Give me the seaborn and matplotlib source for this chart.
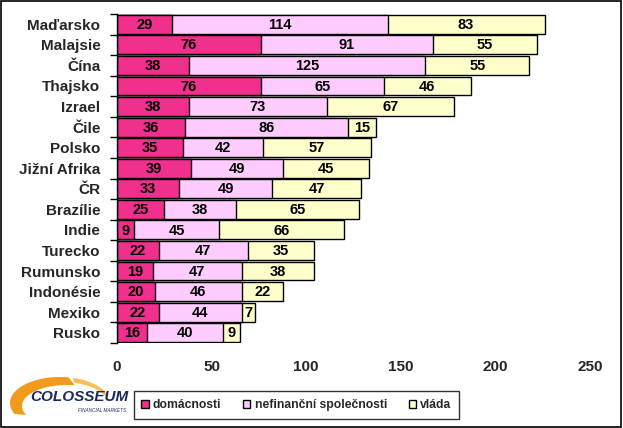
import matplotlib
matplotlib.use("Agg")
import matplotlib.pyplot as plt
import seaborn as sns
import pandas as pd
import numpy as np
from matplotlib.patches import Rectangle, Polygon, Patch

countries = ["Maďarsko", "Malajsie", "Čína", "Thajsko", "Izrael", "Čile", "Polsko",
             "Jižní Afrika", "ČR", "Brazílie", "Indie", "Turecko", "Rumunsko",
             "Indonésie", "Mexiko", "Rusko"]
domacnosti = [29, 76, 38, 76, 38, 36, 35, 39, 33, 25, 9, 22, 19, 20, 22, 16]
nefinancni = [114, 91, 125, 65, 73, 86, 42, 49, 49, 38, 45, 47, 47, 46, 44, 40]
vlada = [83, 55, 55, 46, 67, 15, 57, 45, 47, 65, 66, 35, 38, 22, 7, 9]
series_names = ["domácnosti", "nefinanční společnosti", "vláda"]
colors = ["#F0308C", "#FFCCFF", "#FFFFCC"]
x_ticks = [0, 50, 100, 150, 200, 250]

df = pd.DataFrame({"country": countries, "dom": domacnosti, "nef": nefinancni, "vla": vlada})
df["c1"] = df["dom"]
df["c2"] = df["dom"] + df["nef"]
df["c3"] = df["c2"] + df["vla"]

sns.set_theme(style="white")
plt.rcParams["font.family"] = ["Liberation Sans", "DejaVu Sans"]
plt.rcParams["font.weight"] = "bold"

fig = plt.figure(figsize=(6.23, 4.28), dpi=100)
ax = fig.add_axes([117/623, 1 - 343/428, 473/623, 329/428])

for col, color in zip(["c3", "c2", "c1"], colors[::-1]):
    sns.barplot(data=df, x=col, y="country", orient="h", color=color, width=0.92,
                edgecolor="black", linewidth=1.0, saturation=1, ax=ax)

# value labels
for i, row in df.iterrows():
    starts = [0, row["c1"], row["c2"]]
    vals = [row["dom"], row["nef"], row["vla"]]
    for s, v in zip(starts, vals):
        ax.text(s + v / 2, i + 0.03, str(v), ha="center", va="center", fontsize=10.5,
                fontweight="bold", color="black")

ax.set_xlim(0, 250)
ax.set_ylim(len(countries) - 0.5, -0.5)
ax.set_xticks(x_ticks)
ax.set_xticklabels([str(t) for t in x_ticks], fontsize=11, fontweight="bold")
ax.set_xlabel("")
ax.set_ylabel("")
ax.tick_params(axis="x", length=0, pad=12)
ax.tick_params(axis="y", which="major", length=0, pad=12, labelsize=11)
for lbl in ax.get_yticklabels():
    lbl.set_fontweight("bold")
ax.set_yticks(np.arange(-0.5, len(countries) + 0.5, 1), minor=True)
ax.tick_params(axis="y", which="minor", length=5, width=1, color="black", direction="out", left=True)
for side in ["top", "right", "bottom"]:
    ax.spines[side].set_visible(False)
ax.spines["left"].set_color("black")
ax.spines["left"].set_linewidth(1)

# legend
handles = [Patch(facecolor=c, edgecolor="black", linewidth=1) for c in colors]
leg = fig.legend(handles, series_names, loc="center", bbox_to_anchor=(296.5/623, 1 - 405/428),
                 ncol=3, frameon=True, fancybox=False, handlelength=0.6,
                 handleheight=0.6, handletextpad=0.35, columnspacing=1.8,
                 prop={"weight": "bold", "size": 8.7}, borderpad=0.65)
leg.get_frame().set_edgecolor("black")
leg.get_frame().set_linewidth(1)

# logo (pixel coordinates, y downwards)
lax = fig.add_axes([0, 0, 140/623, 68/428])
lax.set_xlim(0, 140)
lax.set_ylim(428, 360)
lax.axis("off")
t_out = np.radians(np.linspace(205, 80, 60))
t_in = np.radians(np.linspace(80, 205, 60))
outer = np.column_stack([60 + 50 * np.cos(t_out), 403 - 26 * np.sin(t_out)])
inner = np.column_stack([67 + 45 * np.cos(t_in), 406 - 21 * np.sin(t_in)])
lax.add_patch(Polygon(np.vstack([outer, inner]), closed=True, color="#F29A1C", lw=0))
t2 = np.radians(np.linspace(75, 20, 30))
t2b = np.radians(np.linspace(20, 75, 30))
o2 = np.column_stack([60 + 50 * np.cos(t2), 403 - 26 * np.sin(t2)])
i2 = np.column_stack([62 + 47 * np.cos(t2b), 405 - 23 * np.sin(t2b)])
lax.add_patch(Polygon(np.vstack([o2, i2]), closed=True, color="#F7BF5A", lw=0))
lax.text(79, 397, "COLOSSEUM", ha="center", va="center", fontsize=11, fontweight="bold",
         style="italic", color="#1B2A5C")
lax.text(102, 410, "FINANCIAL MARKETS", ha="center", va="center", fontsize=3.3,
         style="italic", color="#1B2A5C", fontweight="normal")

# figure border
fig.patches.append(Rectangle((0.002, 0.003), 0.995, 0.994, transform=fig.transFigure,
                             fill=False, edgecolor="black", linewidth=1.2))

fig.savefig("out.png", dpi=100)
